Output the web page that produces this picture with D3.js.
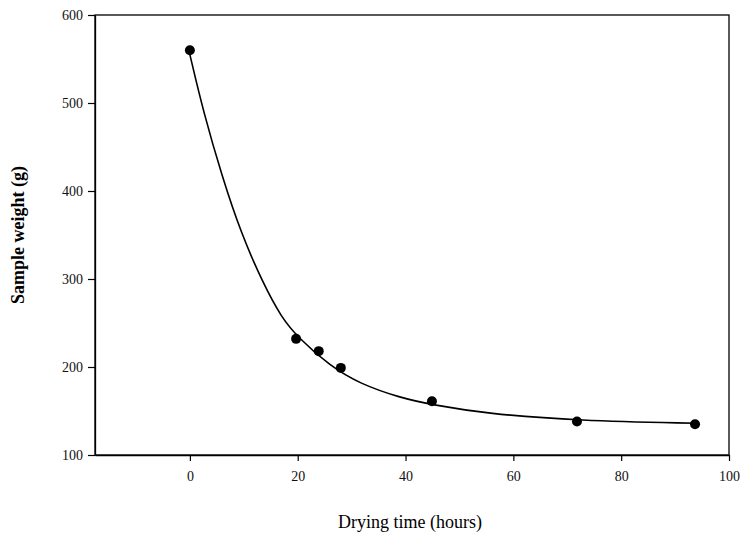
<!DOCTYPE html>
<html><head><meta charset="utf-8">
<script src="https://cdn.jsdelivr.net/npm/d3@7"></script>
<style>body{margin:0;background:#fff}svg{display:block}</style>
</head><body><svg id="c" width="742" height="536"></svg>
<script>
const timeHours = [0, 19.7, 23.9, 28, 44.9, 71.8, 93.7];
const weightG = [560, 232, 218, 199, 161, 138, 135];
const fitTime = [0, 2.5, 6, 9.5, 13.5, 17, 20, 26, 31.5, 39, 45, 55, 72, 94];
const fitWeight = [555, 490, 416, 352, 296, 256, 234, 201, 181, 165, 157, 147, 139, 136];
const xTicks = [0, 20, 40, 60, 80, 100];
const yTicks = [100, 200, 300, 400, 500, 600];

const svg = d3.select("#c");
const L = 95, R = 729, T = 15, B = 455;
const x = d3.scaleLinear().domain([-17.6, 100]).range([L, R]);
const y = d3.scaleLinear().domain([100, 600]).range([B, T]);
const font = "'Liberation Serif','Times New Roman',serif";

svg.append("rect").attr("x", L).attr("y", T).attr("width", R - L).attr("height", B - T)
  .attr("fill", "none").attr("stroke", "#000").attr("stroke-width", 1.3);

const xa = svg.append("g").attr("transform", `translate(0,${B})`)
  .call(d3.axisBottom(x).tickValues(xTicks).tickSize(6).tickPadding(10).tickSizeOuter(0));
const ya = svg.append("g").attr("transform", `translate(${L},0)`)
  .call(d3.axisLeft(y).tickValues(yTicks).tickSize(7).tickPadding(5).tickSizeOuter(0));
[xa, ya].forEach(g => {
  g.select(".domain").attr("stroke", "#000").attr("stroke-width", 1.3);
  g.selectAll(".tick line").attr("stroke", "#000").attr("stroke-width", 1.2);
  g.selectAll("text").attr("font-family", font).attr("font-size", 14).attr("fill", "#111");
});

const line = d3.line().x((d, i) => x(fitTime[i])).y(d => y(d)).curve(d3.curveBasis);
svg.append("path").attr("d", line(fitWeight)).attr("fill", "none")
  .attr("stroke", "#000").attr("stroke-width", 1.6);

svg.selectAll("circle.pt").data(weightG).enter().append("circle")
  .attr("cx", (d, i) => x(timeHours[i])).attr("cy", d => y(d)).attr("r", 5).attr("fill", "#000");

svg.append("text").attr("x", 410).attr("y", 528).attr("text-anchor", "middle")
  .attr("font-family", font).attr("font-size", 18).text("Drying time (hours)");
svg.append("text").attr("transform", "translate(24,235) rotate(-90)").attr("text-anchor", "middle")
  .attr("font-family", font).attr("font-size", 18).attr("font-weight", "bold").text("Sample weight (g)");
</script></body></html>
